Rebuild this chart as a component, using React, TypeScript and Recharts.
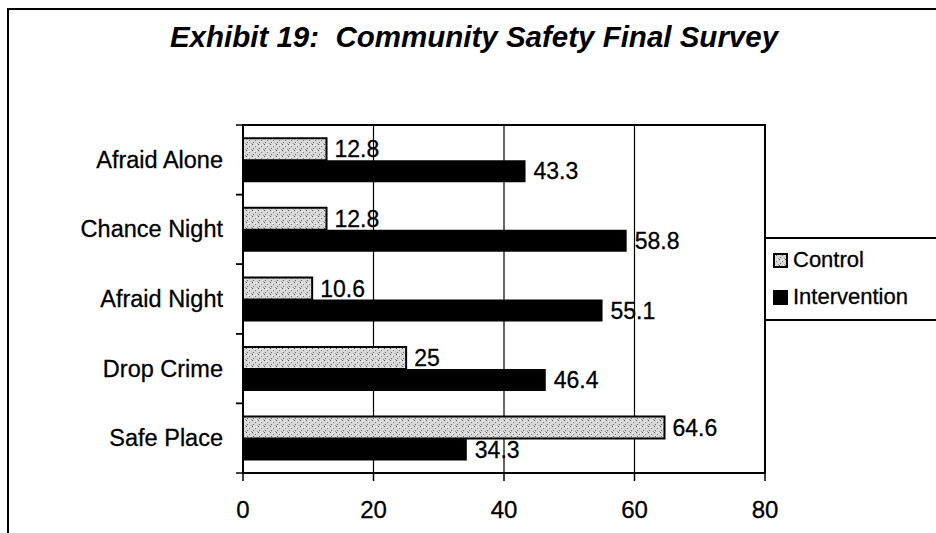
import { BarChart, Bar, XAxis, YAxis, CartesianGrid, ReferenceArea, LabelList } from 'recharts'

const categories = ['Afraid Alone', 'Chance Night', 'Afraid Night', 'Drop Crime', 'Safe Place']
const controlValues = [12.8, 12.8, 10.6, 25, 64.6]
const interventionValues = [43.3, 58.8, 55.1, 46.4, 34.3]
const xTicks = [0, 20, 40, 60, 80]
const seriesNames = ['Control', 'Intervention']

const data = categories.map((name, i) => ({
  name,
  control: controlValues[i],
  intervention: interventionValues[i],
}))

const FONT = '"Liberation Sans", Arial, sans-serif'
const PLOT_LEFT = 243
const PLOT_TOP = 125
const PLOT_BOTTOM = 473
const BAND = (PLOT_BOTTOM - PLOT_TOP) / categories.length

function CategoryTick({ y, payload }: any) {
  return (
    <g>
      <text
        x={PLOT_LEFT - 20}
        y={y}
        textAnchor="end"
        dominantBaseline="central"
        fontSize={23.5}
        fontFamily={FONT}
        fill="#000"
        stroke="#000"
        strokeWidth={0.3}
      >
        {payload.value}
      </text>
      <line x1={PLOT_LEFT - 7} x2={PLOT_LEFT} y1={y - BAND / 2} y2={y - BAND / 2} stroke="#000" strokeWidth={1.5} />
      <line x1={PLOT_LEFT - 7} x2={PLOT_LEFT} y1={y + BAND / 2} y2={y + BAND / 2} stroke="#000" strokeWidth={1.5} />
    </g>
  )
}

function Swatch({ dark }: { dark: boolean }) {
  return (
    <svg width={15} height={15} style={{ display: 'block' }}>
      <rect x={1} y={1} width={13} height={13} fill={dark ? '#000' : 'url(#speckle)'} stroke="#000" strokeWidth={2} />
    </svg>
  )
}

const labelProps = {
  position: 'right' as const,
  offset: 8,
  fontSize: 23,
  fill: '#000',
  stroke: '#000',
  strokeWidth: 0.3,
  fontFamily: FONT,
}

export default function App() {
  return (
    <div
      style={{
        position: 'absolute',
        left: 0,
        top: 0,
        width: 936,
        height: 533,
        background: '#fff',
        overflow: 'hidden',
        fontFamily: FONT,
      }}
    >
      <svg width={0} height={0} style={{ position: 'absolute' }}>
        <defs>
          <pattern id="speckle" width={6} height={6} patternUnits="userSpaceOnUse">
            <rect width={6} height={6} fill="#d8d8d8" />
            <rect x={0} y={0} width={1} height={1} fill="#555" />
            <rect x={3} y={2} width={1} height={1} fill="#777" />
            <rect x={1} y={4} width={1} height={1} fill="#666" />
            <rect x={5} y={5} width={1} height={1} fill="#999" />
            <rect x={4} y={0} width={1} height={1} fill="#f4f4f4" />
            <rect x={2} y={1} width={1} height={1} fill="#fff" />
          </pattern>
        </defs>
      </svg>

      {/* outer frame */}
      <div
        style={{
          position: 'absolute',
          left: 7,
          top: 8,
          width: 960,
          height: 560,
          borderLeft: '2px solid #000',
          borderTop: '2px solid #000',
        }}
      />

      <div
        style={{
          position: 'absolute',
          left: 0,
          top: 20,
          width: 948,
          textAlign: 'center',
          fontSize: 29.5,
          fontWeight: 'bold',
          fontStyle: 'italic',
          color: '#000',
        }}
      >
        Exhibit 19:&nbsp; Community Safety Final Survey
      </div>

      <div style={{ position: 'absolute', left: 0, top: 0 }}>
        <BarChart
          width={936}
          height={533}
          data={data}
          layout="vertical"
          margin={{ top: PLOT_TOP, right: 171, bottom: 0, left: 0 }}
          barCategoryGap="19%"
          barGap={0}
        >
          <CartesianGrid horizontal={false} vertical stroke="#000" strokeWidth={1.2} />
          <ReferenceArea x1={0} x2={80} fill="none" stroke="#000" strokeWidth={2} />
          <XAxis
            type="number"
            domain={[0, 80]}
            ticks={xTicks}
            axisLine={false}
            tickLine={{ stroke: '#000', strokeWidth: 1.5 }}
            tickSize={8}
            tickMargin={20}
            height={60}
            tick={{ fontSize: 24, fill: '#000', stroke: '#000', strokeWidth: 0.3, fontFamily: FONT }}
          />
          <YAxis
            type="category"
            dataKey="name"
            width={PLOT_LEFT}
            axisLine={false}
            tickLine={false}
            tick={<CategoryTick />}
          />
          <Bar
            dataKey="control"
            name={seriesNames[0]}
            fill="url(#speckle)"
            stroke="#000"
            strokeWidth={2}
            isAnimationActive={false}
          >
            <LabelList dataKey="control" {...labelProps} />
          </Bar>
          <Bar dataKey="intervention" name={seriesNames[1]} fill="#000" isAnimationActive={false}>
            <LabelList dataKey="intervention" {...labelProps} />
          </Bar>
        </BarChart>
      </div>

      {/* legend */}
      <div
        style={{
          position: 'absolute',
          left: 764,
          top: 237,
          width: 200,
          height: 80,
          border: '2px solid #000',
          background: '#fff',
          fontSize: 22,
          color: '#000',
          WebkitTextStroke: '0.3px #000',
        }}
      >
        {seriesNames.map((s, i) => (
          <div
            key={s}
            style={{
              position: 'absolute',
              left: 7,
              top: i === 0 ? 8 : 45,
              display: 'flex',
              alignItems: 'center',
              gap: 5,
            }}
          >
            <Swatch dark={i === 1} />
            <span>{s}</span>
          </div>
        ))}
      </div>
    </div>
  )
}
